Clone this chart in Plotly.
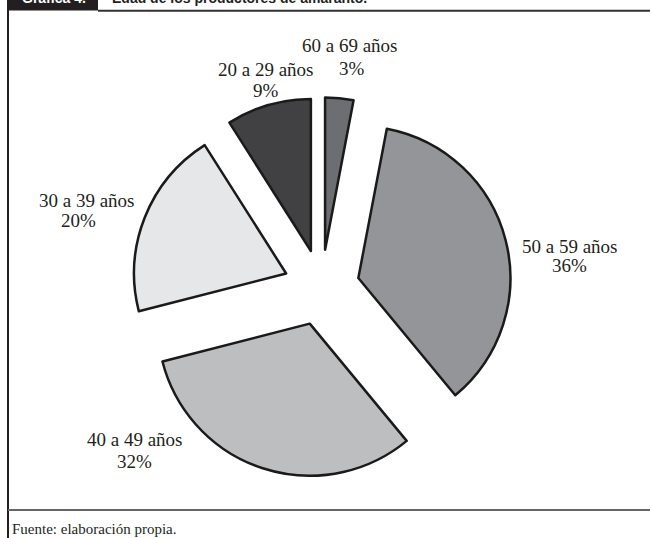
import plotly.graph_objects as go

W, H = 652, 538

categories = ["60 a 69 años", "50 a 59 años", "40 a 49 años", "30 a 39 años", "20 a 29 años"]
values = [3, 36, 32, 20, 9]
pct_labels = ["3%", "36%", "32%", "20%", "9%"]
colors = ["#6d6e71", "#939598", "#bcbec0", "#e6e7e8", "#414042"]

title_tag = "Gráfica 4."
title_text = "Edad de los productores de amaranto."
source_text = "Fuente: elaboración propia."


def px(x):
    return x / W


def py(y):
    return 1 - y / H


fig = go.Figure()
fig.add_trace(go.Pie(
    labels=categories,
    values=values,
    sort=False,
    direction="clockwise",
    rotation=0,
    pull=[0.25] * len(values),
    marker=dict(colors=colors, line=dict(color="#1a1a1a", width=2.5)),
    textinfo="none",
    hoverinfo="label+percent",
    showlegend=False,
    domain=dict(x=[px(131.4), px(511.6)], y=[py(477.6), py(97.4)]),
))

FS = 19
serif = "Liberation Serif, Times New Roman, serif"
# label centre x and baseline y for name line and percent line
label_pos = {
    "60 a 69 años": (350, 51.7, 352, 74.3),
    "50 a 59 años": (569.5, 251.7, 569, 271.7),
    "40 a 49 años": (135, 445, 134.5, 466.7),
    "30 a 39 años": (86.5, 206, 78, 226.7),
    "20 a 29 años": (265.5, 75, 266, 96.7),
}
annotations = []
for cat, pct in zip(categories, pct_labels):
    x1, b1, x2, b2 = label_pos[cat]
    for txt, x, b in ((cat, x1, b1), (pct, x2, b2)):
        annotations.append(dict(
            text=txt, x=px(x), y=py(b - 0.3 * FS), xref="paper", yref="paper",
            xanchor="center", yanchor="middle", showarrow=False,
            font=dict(family=serif, size=FS, color="#231f20"),
        ))

# cut-off title strip
annotations.append(dict(
    text="<b>" + title_tag + "</b>", x=px(20), y=py(8), xref="paper", yref="paper",
    xanchor="left", yanchor="bottom", showarrow=False,
    font=dict(family="Liberation Sans, Arial, sans-serif", size=14, color="white"),
))
annotations.append(dict(
    text="<b>" + title_text + "</b>", x=px(110), y=py(8), xref="paper", yref="paper",
    xanchor="left", yanchor="bottom", showarrow=False,
    font=dict(family="Liberation Sans, Arial, sans-serif", size=14, color="#231f20"),
))
# source
annotations.append(dict(
    text=source_text, x=px(10), y=py(533 - 0.3 * 15), xref="paper", yref="paper",
    xanchor="left", yanchor="middle", showarrow=False,
    font=dict(family="Liberation Serif, serif", size=15, color="#231f20"),
))

shapes = [
    dict(type="rect", xref="paper", yref="paper", x0=px(7), x1=px(98), y0=py(10.5), y1=py(-5),
         fillcolor="#231f20", line=dict(width=0), layer="below"),
    dict(type="line", xref="paper", yref="paper", x0=px(98), x1=px(650), y0=py(10.8), y1=py(10.8),
         line=dict(color="#333333", width=2)),
    dict(type="line", xref="paper", yref="paper", x0=px(8), x1=px(8), y0=py(10), y1=py(545),
         line=dict(color="#231f20", width=2)),
    dict(type="line", xref="paper", yref="paper", x0=px(8), x1=px(650), y0=py(510), y1=py(510),
         line=dict(color="#666666", width=2)),
]

fig.update_layout(
    width=W, height=H,
    margin=dict(l=0, r=0, t=0, b=0),
    paper_bgcolor="white", plot_bgcolor="white",
    annotations=annotations,
    shapes=shapes,
)

fig.write_html(
    "out.html",
    config={"displayModeBar": False},
    post_script="document.body.style.margin='0';document.body.style.padding='0';document.body.style.overflow='hidden';",
)
